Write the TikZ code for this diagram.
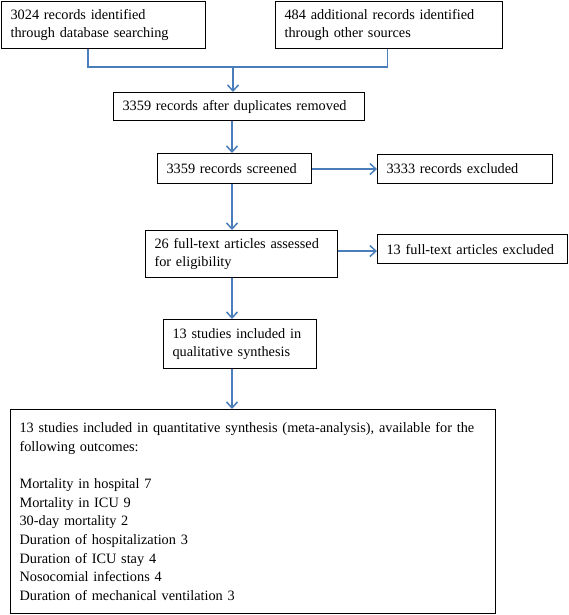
\documentclass[tikz,border=0pt]{standalone}
\usepackage{fontspec}
\setmainfont{Liberation Serif}
\usetikzlibrary{arrows.meta}
\hyphenpenalty=10000
\definecolor{flowblue}{RGB}{74,126,187}
\tikzset{
    box/.style={draw, line width=1.1pt, anchor=north west, align=left, inner xsep=9pt, inner ysep=0pt,
        font=\fontsize{14.3}{18.6}\selectfont}, % boxes of the flow chart
    link/.style={flowblue, line width=1.5pt}, % plain connector
    flow/.style={link, -{Straight Barb[length=6pt, width=11pt]}} % connector with arrow
}
\begin{document}
\begin{tikzpicture}[x=1pt, y=-1pt]
    \useasboundingbox (0,0) rectangle (568,615);

    \node[box, minimum width=204pt, minimum height=47pt, text width=186pt] (db) at (1,1) {3024 records identified\\through database searching};
    \node[box, minimum width=227pt, minimum height=47pt, text width=209pt] (other) at (275,1) {484 additional records identified\\through other sources};
    \node[box, minimum width=251pt, minimum height=28pt, text width=233pt] (dup) at (113,92) {3359 records after duplicates removed};
    \node[box, minimum width=154pt, minimum height=30pt, text width=136pt] (screen) at (157,153) {3359 records screened};
    \node[box, minimum width=175pt, minimum height=29pt, text width=157pt] (excl) at (377,154) {3333 records excluded};
    \node[box, minimum width=192pt, minimum height=47pt, text width=174pt] (full) at (145,230) {26 full-text articles assessed\\for eligibility};
    \node[box, minimum width=190pt, minimum height=29pt, text width=172pt] (fullex) at (377,234) {13 full-text articles excluded};
    \node[box, minimum width=153pt, minimum height=49pt, text width=135pt] (qual) at (163,319) {13 studies included in\\qualitative synthesis};
    \node[box, minimum width=485pt, minimum height=204pt, text width=467pt] (quant) at (10,409) {13 studies included in quantitative synthesis (meta-analysis), available for the\\following outcomes:\\[18.6pt]Mortality in hospital 7\\Mortality in ICU 9\\30-day mortality 2\\Duration of hospitalization 3\\Duration of ICU stay 4\\Nosocomial infections 4\\Duration of mechanical ventilation 3};

    \coordinate (join) at (233,66);
    \coordinate (spine) at (232,0);

    \draw[link] ([xshift=-15.5pt]db.south) -- ++(0,18) -| ([xshift=-1.5pt]other.south);
    \draw[flow] (join) -- (dup.north -| join);
    \draw[flow] (dup.south -| spine) -- (screen.north -| spine);
    \draw[flow] (screen.east |- excl.west) -- (excl.west);
    \draw[flow] (screen.south -| spine) -- (full.north -| spine);
    \draw[flow] ([yshift=3pt]full.east) -- ([yshift=3pt]full.east -| fullex.west);
    \draw[flow] (full.south -| spine) -- (qual.north -| spine);
    \draw[flow] (qual.south -| spine) -- (quant.north -| spine);
\end{tikzpicture}
\end{document}
